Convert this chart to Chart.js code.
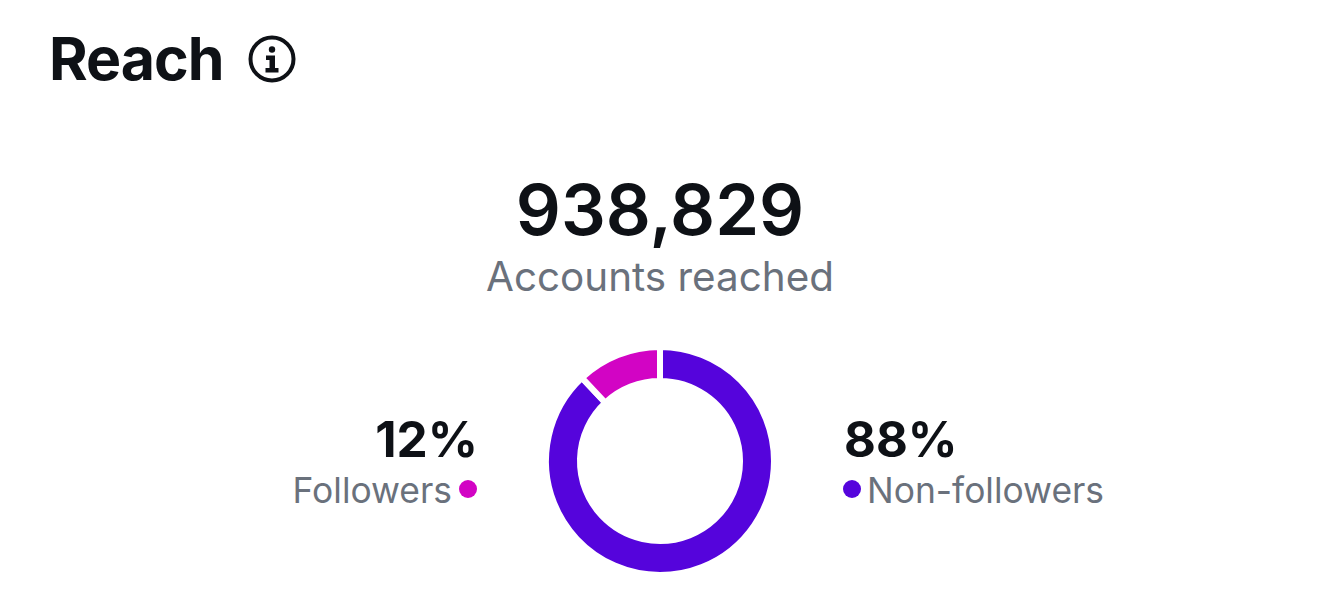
<!DOCTYPE html>
<html>
<head>
<meta charset="utf-8">
<style>
  html, body { margin: 0; padding: 0; background: #fff; }
  #wrap { position: relative; width: 1320px; height: 602px; overflow: hidden; font-family: Inter, sans-serif; }
  #wrap div { position: absolute; white-space: nowrap; line-height: 1; }
  canvas { position: absolute; left: 530px; top: 331px; }
  .big { color: #0e1116; font-weight: 700; }
  .sub { color: #6a717c; font-weight: 400; }
  .dot { width: 18px; height: 18px; border-radius: 50%; }
</style>
</head>
<body>
<div id="wrap">
  <div class="big" style="left:49px;top:29px;font-size:59px;letter-spacing:-1px">Reach</div>
  <svg style="position:absolute;left:248px;top:35px" width="48" height="48" viewBox="0 0 48 48">
    <circle cx="24" cy="24" r="21.5" fill="none" stroke="#0e1116" stroke-width="4"/>
    <circle cx="24" cy="14.5" r="3.2" fill="#0e1116"/>
    <path d="M18 20.5h9v12.5h3.5v4.5H17.5V33H21.5v-8h-3.5z" fill="#0e1116"/>
  </svg>
  <div class="big" style="left:0;width:1320px;text-align:center;top:175px;font-size:70.5px;font-weight:600">938,829</div>
  <div class="sub" style="left:0;width:1320px;text-align:center;top:257px;font-size:40.4px">Accounts reached</div>
  <div class="big" id="lp" style="right:842px;top:415px;font-size:49.5px"></div>
  <div class="sub" id="ll" style="right:868px;top:473px;font-size:35.4px"></div>
  <div class="dot" id="ld" style="left:459px;top:480px"></div>
  <div class="big" id="rp" style="left:844px;top:415px;font-size:49px"></div>
  <div class="dot" id="rd" style="left:843px;top:480px"></div>
  <div class="sub" id="rl" style="left:867px;top:473px;font-size:35.4px"></div>
  <canvas id="chart" width="260" height="260"></canvas>
</div>
<script src="https://cdn.jsdelivr.net/npm/chart.js@4/dist/chart.umd.min.js"></script>
<script>
const categories = ["Non-followers", "Followers"];
const shares = [88, 12];
const colors = ["#5504dc", "#d204c4"];

document.getElementById("lp").textContent = shares[1] + "%";
document.getElementById("ll").textContent = categories[1];
document.getElementById("ld").style.background = colors[1];
document.getElementById("rp").textContent = shares[0] + "%";
document.getElementById("rl").textContent = categories[0];
document.getElementById("rd").style.background = colors[0];

new Chart(document.getElementById("chart"), {
  type: "doughnut",
  data: {
    labels: categories,
    datasets: [{
      data: shares,
      backgroundColor: colors,
      borderColor: "#fff",
      borderWidth: 6,
      borderAlign: "center"
    }]
  },
  options: {
    responsive: false,
    animation: false,
    cutout: "70.2%",
    radius: 114,
    layout: { padding: 0 },
    plugins: { legend: { display: false }, tooltip: { enabled: false } }
  }
});
</script>
</body>
</html>
